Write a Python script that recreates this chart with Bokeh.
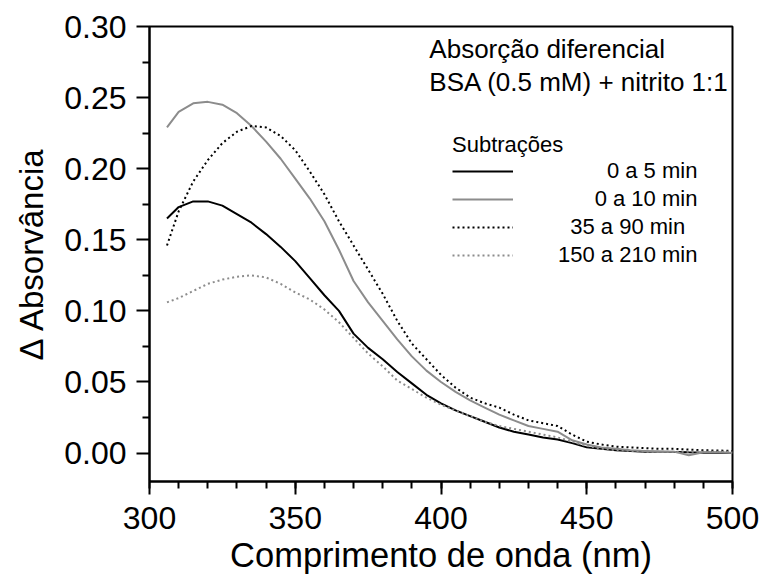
from bokeh.plotting import figure
from bokeh.embed import file_html
from bokeh.resources import INLINE
from bokeh.models import Range1d, FixedTicker, PrintfTickFormatter, Legend, LegendItem, Label

# ---- data ----
wavelength = [306, 310, 315, 320, 325, 330, 335, 340, 345, 350,
              355, 360, 365, 370, 375, 380, 385, 390, 395, 400,
              405, 410, 415, 420, 425, 430, 435, 440, 445, 450,
              455, 460, 465, 470, 475, 480, 485, 490, 495, 500]

sub_0_5 = [0.165, 0.173, 0.177, 0.177, 0.174, 0.168, 0.162, 0.154, 0.145, 0.135,
           0.123, 0.111, 0.100, 0.084, 0.074, 0.066, 0.057, 0.049, 0.041, 0.035,
           0.030, 0.026, 0.022, 0.018, 0.015, 0.013, 0.011, 0.0095, 0.007, 0.004,
           0.003, 0.002, 0.0015, 0.001, 0.001, 0.0008, 0.0005, 0.0003, 0.0002, 0.0]

sub_0_10 = [0.229, 0.240, 0.246, 0.247, 0.245, 0.239, 0.230, 0.219, 0.207, 0.193,
            0.179, 0.163, 0.143, 0.121, 0.106, 0.093, 0.080, 0.068, 0.058, 0.050,
            0.043, 0.037, 0.032, 0.027, 0.023, 0.019, 0.017, 0.015, 0.009, 0.006,
            0.004, 0.003, 0.002, 0.0015, 0.001, 0.001, -0.0015, 0.0005, 0.0005, 0.0]

sub_35_90 = [0.146, 0.170, 0.191, 0.206, 0.218, 0.226, 0.230, 0.229, 0.223, 0.213,
             0.198, 0.182, 0.163, 0.146, 0.129, 0.112, 0.093, 0.077, 0.066, 0.055,
             0.046, 0.039, 0.035, 0.032, 0.027, 0.023, 0.021, 0.019, 0.013, 0.008,
             0.006, 0.0045, 0.004, 0.0035, 0.003, 0.003, 0.0025, 0.002, 0.0018, 0.0015]

sub_150_210 = [0.106, 0.109, 0.114, 0.119, 0.122, 0.124, 0.125, 0.1235, 0.119, 0.113,
               0.108, 0.101, 0.092, 0.081, 0.070, 0.061, 0.051, 0.045, 0.039, 0.034,
               0.030, 0.026, 0.022, 0.019, 0.017, 0.015, 0.013, 0.011, 0.008, 0.005,
               0.003, 0.002, 0.0015, 0.001, 0.001, 0.001, 0.001, 0.001, 0.001, 0.001]

series_labels = ["0 a 5 min", "0 a 10 min", "35 a 90 min", "150 a 210 min"]
x_ticks = [300, 350, 400, 450, 500]
y_ticks = [0.00, 0.05, 0.10, 0.15, 0.20, 0.25, 0.30]
y_minor_ticks = [0.025, 0.075, 0.125, 0.175, 0.225, 0.275]
x_minor_ticks = list(range(300, 501, 10))

FONT = "Liberation Sans"

p = figure(width=761, height=582, output_backend="svg", toolbar_location=None,
           x_range=Range1d(300, 500), y_range=Range1d(-0.02, 0.30))
p.min_border_left = 149
p.min_border_right = 29
p.min_border_top = 26
p.min_border_bottom = 101
p.background_fill_color = "white"
p.border_fill_color = "white"
p.outline_line_color = "black"
p.outline_line_width = 2
p.xgrid.visible = False
p.ygrid.visible = False

p.xaxis.ticker = FixedTicker(ticks=x_ticks, minor_ticks=x_minor_ticks)
p.yaxis.ticker = FixedTicker(ticks=y_ticks, minor_ticks=y_minor_ticks)
p.yaxis.formatter = PrintfTickFormatter(format="%.2f")
p.xaxis.axis_label = "Comprimento de onda (nm)"
p.yaxis.axis_label = "\u0394 Absorv\u00e2ncia"

for ax in (p.xaxis, p.yaxis):
    ax.axis_line_width = 2
    ax.axis_line_color = "black"
    ax.major_tick_line_width = 2
    ax.minor_tick_line_width = 2
    ax.major_tick_in = 0
    ax.major_tick_out = 13
    ax.minor_tick_in = 0
    ax.minor_tick_out = 7
    ax.major_label_text_font = FONT
    ax.major_label_text_font_size = "32px"
    ax.major_label_text_color = "black"
    ax.axis_label_text_font = FONT
    ax.axis_label_text_font_style = "normal"
    ax.axis_label_text_color = "black"
p.xaxis.axis_label_text_font_size = "34.5px"
p.yaxis.axis_label_text_font_size = "33px"
p.xaxis.major_label_standoff = 12
p.yaxis.major_label_standoff = 10
p.xaxis.axis_label_standoff = 4
p.yaxis.axis_label_standoff = 11

r1 = p.line(wavelength, sub_0_5, line_color="black", line_width=2)
r2 = p.line(wavelength, sub_0_10, line_color="#8c8c8c", line_width=2)
r3 = p.line(wavelength, sub_35_90, line_color="black", line_width=2, line_dash="2 3")
r4 = p.line(wavelength, sub_150_210, line_color="#8c8c8c", line_width=2, line_dash="2 3")

NB = "\u00a0"
pads = [8, 6, 2, 0]
items = [LegendItem(label=NB * n + lab, renderers=[r])
         for n, lab, r in zip(pads, series_labels, [r1, r2, r3, r4])]
legend = Legend(items=items, location=(303, 213), title="Subtra\u00e7\u00f5es",
                title_text_font=FONT, title_text_font_size="22px",
                title_text_font_style="normal", title_text_color="black", title_standoff=0,
                label_text_font=FONT, label_text_font_size="22px", label_text_color="black",
                glyph_width=61, glyph_height=24, label_height=24,
                label_standoff=45, spacing=2, padding=0, margin=0,
                border_line_color=None, background_fill_alpha=0)
p.add_layout(legend, "center")

p.add_layout(Label(x=396, y=0.2845, text="Absor\u00e7\u00e3o diferencial", text_color="black",
                   text_font=FONT, text_font_size="26px", text_baseline="middle"))
p.add_layout(Label(x=396, y=0.2608, text="BSA (0.5 mM) + nitrito 1:1", text_color="black",
                   text_font=FONT, text_font_size="26px", text_baseline="middle"))

open("out.html", "w").write(file_html(p, INLINE))
